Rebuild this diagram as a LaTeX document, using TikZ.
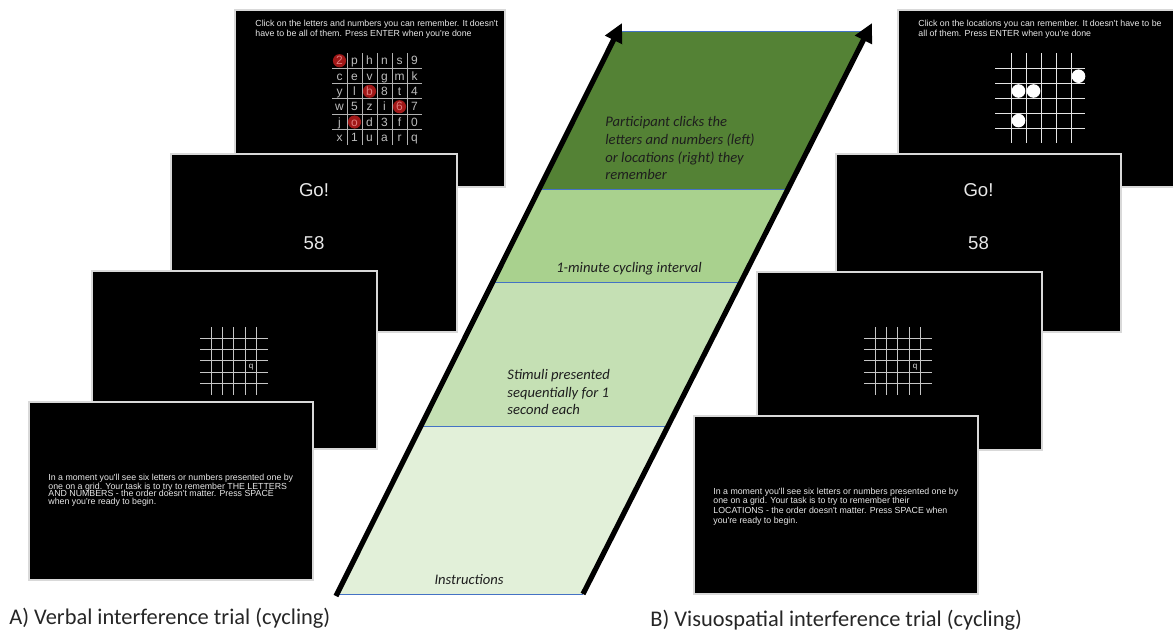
\documentclass[tikz,border=0pt]{standalone}
\usepackage{fontspec}
\setmainfont{Carlito}
\newfontfamily\arial{Liberation Sans}
\usetikzlibrary{arrows.meta}
\definecolor{bandA}{HTML}{548235}
\definecolor{bandB}{HTML}{A9D18E}
\definecolor{bandC}{HTML}{C5E0B4}
\definecolor{bandD}{HTML}{E2F0D9}
\definecolor{divblue}{HTML}{4472C4}
\definecolor{scrtext}{HTML}{E8E8E8}
\definecolor{ltrgray}{HTML}{BDBDBD}
\definecolor{ltrred}{HTML}{E07A7A}
\definecolor{cred}{HTML}{A01818}
\definecolor{bandtext}{HTML}{1E1E1E}
\tikzset{
  screen/.style={fill=black, draw=gray!30, line width=0.6pt},
  scrline/.style={text=scrtext, font=\arial\fontsize{4.4}{5}\selectfont, inner sep=0pt, anchor=base west},
  bigtxt/.style={text=scrtext, font=\arial\fontsize{9.3}{11}\selectfont, inner sep=0pt, anchor=base},
  gridltr/.style={font=\arial\fontsize{6}{7}\selectfont, inner sep=0pt, anchor=base},
  qltr/.style={text=scrtext, font=\arial\fontsize{4}{5}\selectfont, inner sep=0pt, anchor=base},
  bandlbl/.style={text=bandtext, font=\fontsize{7.3}{9}\selectfont\itshape, inner sep=0pt},
  divider/.style={draw=divblue, line width=0.5pt},
  timeline/.style={draw=black, line width=2.6pt, -{Triangle[length=9.5pt,width=9pt]}},
  caption/.style={text=black!85, font=\fontsize{11.2}{13}\selectfont, inner sep=0pt, anchor=base west},
}
\begin{document}
\begin{tikzpicture}[x=0.5pt,y=-0.5pt]
\useasboundingbox[fill=white] (0,0) rectangle (1173,637);

% ---------- central parallelogram ----------
\fill[bandD] (337,594) -- (583,594) -- (668.3,426) -- (421.4,426) -- cycle;
\fill[bandC] (421.4,426) -- (668.3,426) -- (741.3,282) -- (493.8,282) -- cycle;
\fill[bandB] (493.8,282) -- (741.3,282) -- (788.5,189) -- (540.5,189) -- cycle;
\fill[bandA] (540.5,189) -- (788.5,189) -- (868.7,31) -- (619.9,31) -- cycle;
\draw[divider] (337,594) -- (583,594);
\draw[divider] (421.4,426) -- (668.3,426);
\draw[divider] (493.8,282) -- (741.3,282);
\draw[divider] (540.5,189) -- (788.5,189);
\draw[divider] (619.9,31) -- (868.7,31);
\coordinate (la) at (336,596);
\coordinate (lb) at (622,23);
\coordinate (ra) at (583,594);
\coordinate (rb) at (872,23);
\draw[timeline] (la) -- (lb);
\draw[timeline] (ra) -- (rb);

\node[bandlbl, anchor=base west] (p1) at (605,126) {Participant clicks the};
\node[bandlbl, anchor=base west] (p2) at (605,144) {letters and numbers (left)};
\node[bandlbl, anchor=base west] (p3) at (605,162) {or locations (right) they};
\node[bandlbl, anchor=base west] (p4) at (605,179) {remember};
\node[bandlbl, anchor=base] (cyc) at (629,272) {1-minute cycling interval};
\node[bandlbl, anchor=base west] (s1) at (507,379) {Stimuli presented};
\node[bandlbl, anchor=base west] (s2) at (507,397) {sequentially for 1};
\node[bandlbl, anchor=base west] (s3) at (507,414) {second each};
\node[bandlbl, anchor=base] (ins) at (469,584) {Instructions};

% ---------- left column (verbal) ----------
\draw[screen] (235,10) rectangle (505,187);
\node[scrline] (l1a) at (255,26.3) {Click on the letters and numbers you can remember. It doesn't};
\node[scrline] (l1b) at (255,36.3) {have to be all of them. Press ENTER when you're done};
\foreach \x/\y in {339.5/60.7, 369.5/91.3, 399.5/106.7, 354.5/122}
  \fill[cred] (\x,\y) circle (3.3pt);
\foreach \k in {1,...,5} {
  \draw[gray!60, line width=0.5pt] ({332+15*\k},53) -- ({332+15*\k},145);
  \draw[gray!60, line width=0.5pt] (332,{53+15.33*\k}) -- (422,{53+15.33*\k});
}
\foreach \ch [count=\i from 0] in {2,p,h,n,s,9,c,e,v,g,m,k,y,l,b,8,t,4,w,5,z,i,6,7,j,o,d,3,f,0,x,1,u,a,r,q} {
  \pgfmathtruncatemacro\cc{mod(\i,6)}
  \pgfmathtruncatemacro\rr{int(\i/6)}
  \def\lc{ltrgray}
  \ifnum\i=0 \def\lc{ltrred}\fi
  \ifnum\i=14 \def\lc{ltrred}\fi
  \ifnum\i=22 \def\lc{ltrred}\fi
  \ifnum\i=25 \def\lc{ltrred}\fi
  \node[gridltr, text=\lc] (g\i) at ({339.5+15*\cc},{64.7+15.33*\rr}) {\ch};
}

\draw[screen] (171,154) rectangle (457,332);
\node[bigtxt] (lgo) at (314,196.5) {Go!};
\node[bigtxt] (l58) at (314,249.5) {58};

\draw[screen] (92,271) rectangle (377,449);
\foreach \k in {1,...,5} {
  \draw[gray!45, line width=0.5pt] ({200+11.33*\k},327) -- ({200+11.33*\k},395);
  \draw[gray!45, line width=0.5pt] (200,{327+11.33*\k}) -- (268,{327+11.33*\k});
}
\node[qltr] (lq) at (251,368.5) {q};

\draw[screen] (29,402) rectangle (313,580);
\node[scrline] (l4a) at (48,480.3) {In a moment you'll see six letters or numbers presented one by};
\node[scrline] (l4b) at (48,489) {one on a grid. Your task is to try to remember THE LETTERS};
\node[scrline] (l4c) at (48,496.7) {AND NUMBERS - the order doesn't matter. Press SPACE};
\node[scrline] (l4d) at (48,504.7) {when you're ready to begin.};

% ---------- right column (visuospatial) ----------
\draw[screen] (898,10) rectangle (1174,187);
\node[scrline] (r1a) at (918,26.3) {Click on the locations you can remember. It doesn't have to be};
\node[scrline] (r1b) at (918,36.3) {all of them. Press ENTER when you're done};
\foreach \k in {1,...,5} {
  \draw[white!90!black, line width=0.5pt] ({996+15*\k},53) -- ({996+15*\k},143);
  \draw[white!90!black, line width=0.5pt] (995,{54+14.8*\k}) -- (1085,{54+14.8*\k});
}
\foreach \x/\y in {1078.5/76.2, 1018.5/91, 1033.5/91, 1018.5/120.6}
  \fill[white] (\x,\y) circle (3.4pt);

\draw[screen] (836,154) rectangle (1121,332);
\node[bigtxt] (rgo) at (978.5,196.5) {Go!};
\node[bigtxt] (r58) at (978.5,249.5) {58};

\draw[screen] (757,272) rectangle (1042,450);
\foreach \k in {1,...,5} {
  \draw[gray!45, line width=0.5pt] ({864+11.33*\k},327) -- ({864+11.33*\k},395);
  \draw[gray!45, line width=0.5pt] (864,{327+11.33*\k}) -- (932,{327+11.33*\k});
}
\node[qltr] (rq) at (915,368.5) {q};

\draw[screen] (694,416) rectangle (978,594);
\node[scrline] (r4a) at (713,494.7) {In a moment you'll see six letters or numbers presented one by};
\node[scrline] (r4b) at (713,503.7) {one on a grid. Your task is to try to remember their};
\node[scrline] (r4c) at (713,513.7) {LOCATIONS - the order doesn't matter. Press SPACE when};
\node[scrline] (r4d) at (713,523.7) {you're ready to begin.};

% ---------- captions ----------
\node[caption] (capA) at (9,624) {A) Verbal interference trial (cycling)};
\node[caption] (capB) at (650,626) {B) Visuospatial interference trial (cycling)};
\end{tikzpicture}
\end{document}
